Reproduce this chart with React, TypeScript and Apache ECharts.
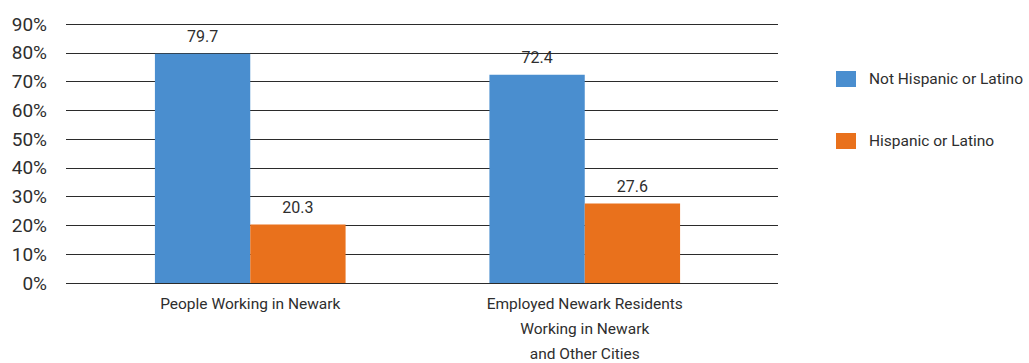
import React, { useEffect, useRef } from "react";
import * as echarts from "echarts";

const categories = [
  "People Working in Newark",
  "Employed Newark Residents\nWorking in Newark\nand Other Cities",
];
const seriesNames = ["Not Hispanic or Latino", "Hispanic or Latino"];
const notHispanic = [79.7, 72.4];
const hispanic = [20.3, 27.6];
const colors = ["#4a8ecf", "#e9711c"];
const yMin = 0;
const yMax = 90;
const yInterval = 10;

const FONT = "Roboto, 'Liberation Sans', sans-serif";
const TEXT = "#2e2e2e";

export default function App() {
  const ref = useRef<HTMLDivElement>(null);
  useEffect(() => {
    if (!ref.current) return;
    const chart = echarts.init(ref.current, null, { renderer: "svg" });
    const labelStyle = {
      show: true,
      position: "top" as const,
      distance: 9,
      color: TEXT,
      fontFamily: FONT,
      fontSize: 16,
      formatter: (p: any) => p.value.toFixed(1),
    };
    chart.setOption({
      animation: false,
      textStyle: { fontFamily: FONT },
      legend: {
        orient: "vertical",
        left: 836,
        top: 71,
        padding: 0,
        itemWidth: 20,
        itemHeight: 16,
        itemGap: 46,
        icon: "rect",
        textStyle: { color: TEXT, fontSize: 15.5, fontFamily: FONT, padding: [0, 0, 0, 8] },
        data: seriesNames,
      },
      grid: [
        { left: 66, right: 1029 - 778, top: 24, bottom: 80, outerBoundsMode: "none", containLabel: false },
        { left: 83, right: 1029 - 752, top: 24, bottom: 80, outerBoundsMode: "none", containLabel: false },
      ],
      xAxis: [
        {
          type: "category",
          gridIndex: 0,
          data: categories,
          show: false,
        },
        {
          type: "category",
          gridIndex: 1,
          data: categories,
          axisLine: { show: false },
          axisTick: { show: false },
          axisLabel: {
            color: TEXT,
            fontFamily: FONT,
            fontSize: 15.5,
            lineHeight: 25,
            margin: 8,
            interval: 0,
          },
        },
      ],
      yAxis: [
        {
          type: "value",
          gridIndex: 0,
          min: yMin,
          max: yMax,
          interval: yInterval,
          axisLine: { show: false },
          axisTick: { show: false },
          axisLabel: {
            formatter: "{value}%",
            color: TEXT,
            fontFamily: FONT,
            fontSize: 19,
            margin: 19,
          },
          splitLine: { show: true, lineStyle: { color: "#2b2b2b", width: 1 } },
        },
        {
          type: "value",
          gridIndex: 1,
          min: yMin,
          max: yMax,
          interval: yInterval,
          show: false,
          splitLine: { show: false },
        },
      ],
      series: [
        {
          name: seriesNames[0],
          type: "bar",
          xAxisIndex: 1,
          yAxisIndex: 1,
          data: notHispanic,
          barGap: "0%",
          barCategoryGap: "43%",
          itemStyle: { color: colors[0] },
          label: labelStyle,
        },
        {
          name: seriesNames[1],
          type: "bar",
          xAxisIndex: 1,
          yAxisIndex: 1,
          data: hispanic,
          barGap: "0%",
          barCategoryGap: "43%",
          itemStyle: { color: colors[1] },
          label: labelStyle,
        },
      ],
    });
    return () => chart.dispose();
  }, []);
  return (
    <div
      ref={ref}
      style={{ position: "absolute", left: 0, top: 0, width: 1029, height: 363, background: "#fff" }}
    />
  );
}
